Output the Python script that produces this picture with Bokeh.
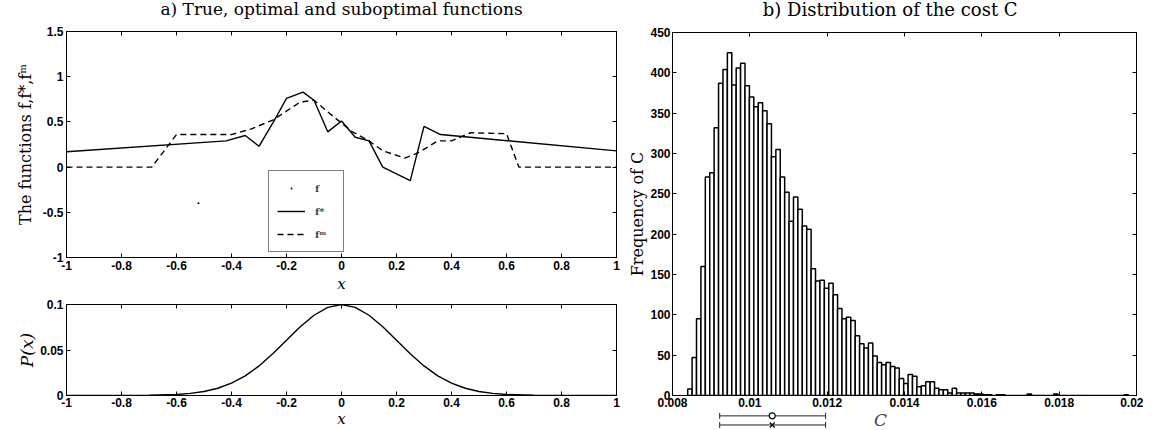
from bokeh.plotting import figure
from bokeh.models import (LinearAxis, FixedTicker, Legend, LegendItem, Label,
                          Range1d, Whisker, TeeHead, ColumnDataSource)
from bokeh.layouts import row, column
from bokeh.embed import file_html
from bokeh.resources import INLINE

# ---------------- data ----------------
# a) optimal function f* (solid) and suboptimal function f^m (dashed)
fstar_x = [-1, -0.42, -0.35, -0.3, -0.24, -0.2, -0.14, -0.1, -0.05, 0, 0.05, 0.1, 0.15, 0.25, 0.3, 0.36, 1]
fstar_y = [0.17, 0.29, 0.35, 0.23, 0.54, 0.76, 0.83, 0.74, 0.39, 0.51, 0.33, 0.29, 0.0, -0.15, 0.45, 0.36, 0.18]
fm_x = [-1, -0.69, -0.6, -0.4, -0.33, -0.25, -0.15, -0.1, -0.03, 0.04, 0.1, 0.15, 0.23, 0.28, 0.35, 0.4, 0.47, 0.6, 0.645, 1]
fm_y = [0, 0, 0.36, 0.36, 0.42, 0.52, 0.72, 0.74, 0.56, 0.39, 0.29, 0.18, 0.10, 0.16, 0.29, 0.29, 0.38, 0.37, 0, 0]
# true function f (dots)
ftrue_x = [-0.52]
ftrue_y = [-0.40]

# input density P(x)
px_x = [-1, -0.9, -0.8, -0.7, -0.6, -0.55, -0.5, -0.45, -0.4, -0.35, -0.3, -0.25, -0.2, -0.15, -0.1, -0.05,
        0, 0.05, 0.1, 0.15, 0.2, 0.25, 0.3, 0.35, 0.4, 0.45, 0.5, 0.55, 0.6, 0.7, 0.8, 0.9, 1]
px_y = [0, 0, 0, 0.0002, 0.0011, 0.0023, 0.0044, 0.0080, 0.0135, 0.0216, 0.0325, 0.0458, 0.0607, 0.0755, 0.0882, 0.0969,
        0.1, 0.0969, 0.0882, 0.0755, 0.0607, 0.0458, 0.0325, 0.0216, 0.0135, 0.0080, 0.0044, 0.0023, 0.0011, 0.0002, 0, 0, 0]

# b) histogram of the cost C (100 bins)
hist_start = 0.00845
hist_width = 0.000114
hist_counts = [8, 47, 95, 160, 271, 276, 332, 387, 404, 425,
               385, 406, 412, 384, 370, 358, 363, 353, 337, 296,
               305, 271, 252, 216, 246, 231, 210, 206, 157, 142,
               143, 133, 139, 125, 108, 95, 97, 93, 74, 64,
               59, 65, 49, 41, 38, 41, 36, 34, 21, 15,
               26, 24, 11, 12, 17, 17, 9, 7, 7, 3,
               9, 3, 3, 3, 3, 2, 2, 1, 1, 0,
               1, 1, 0, 0, 0, 0, 0, 2, 0, 0,
               0, 0, 0, 2, 0, 0, 0, 0, 0, 0,
               0, 0, 0, 0, 0, 0, 0, 0, 0, 1]
# mean +/- spread markers under the histogram (circle and cross), two rows
err_center = [0.01058, 0.01058]
err_lo = [0.00922, 0.00922]
err_hi = [0.01196, 0.01196]
err_row = [1, 2]

# ticks
xa_ticks = [-1, -0.8, -0.6, -0.4, -0.2, 0, 0.2, 0.4, 0.6, 0.8, 1]
xa_labels = ["-1", "-0.8", "-0.6", "-0.4", "-0.2", "0", "0.2", "0.4", "0.6", "0.8", "1"]
ya_ticks = [-1, -0.5, 0, 0.5, 1, 1.5]
ya_labels = ["-1", "-0.5", "0", "0.5", "1", "1.5"]
yp_ticks = [0, 0.05, 0.1]
yp_labels = ["0", "0.05", "0.1"]
xb_ticks = [0.008, 0.01, 0.012, 0.014, 0.016, 0.018, 0.02]
xb_labels = ["0.008", "0.01", "0.012", "0.014", "0.016", "0.018", "0.02"]
yb_ticks = [0, 50, 100, 150, 200, 250, 300, 350, 400, 450]
yb_labels = ["0", "50", "100", "150", "200", "250", "300", "350", "400", "450"]

title_a = "a) True, optimal and suboptimal functions"
title_b = "b)  Distribution  of  the  cost  C"

SERIF = "DejaVu Serif"
SANS = "Liberation Sans"


def style_axis(ax, ticks, labels, show=True):
    ax.ticker = FixedTicker(ticks=ticks)
    if show:
        ax.major_label_overrides = {t: l for t, l in zip(ticks, labels)}
    else:
        ax.major_label_overrides = {t: "" for t in ticks}
    ax.major_tick_in = 4
    ax.major_tick_out = 0
    ax.minor_tick_in = 0
    ax.minor_tick_out = 0
    ax.axis_line_color = "black"
    ax.axis_line_width = 1
    ax.major_tick_line_color = "black"
    ax.major_label_text_font = SANS
    ax.major_label_text_font_style = "bold"
    ax.major_label_text_font_size = "12px"
    ax.major_label_text_color = "black"
    ax.major_label_standoff = 3 if show else 0


def box_axes(p, xt, xl, yt, yl):
    bottom = p.xaxis[0]
    left = p.yaxis[0]
    style_axis(bottom, xt, xl)
    style_axis(left, yt, yl)
    top = LinearAxis()
    style_axis(top, xt, xl, show=False)
    right = LinearAxis()
    style_axis(right, yt, yl, show=False)
    p.add_layout(top, "above")
    p.add_layout(right, "right")
    p.xgrid.visible = False
    p.ygrid.visible = False
    p.outline_line_color = "black"
    return bottom, left, top, right


def title_strip(text, fw, fh, bl, br, size):
    t = figure(frame_width=fw, frame_height=fh, min_border_left=bl, min_border_right=br,
               min_border_top=0, min_border_bottom=0, x_range=Range1d(0, 1), y_range=Range1d(0, 1),
               x_axis_type=None, y_axis_type=None, toolbar_location=None, output_backend="svg")
    t.outline_line_color = None
    t.xgrid.visible = False
    t.ygrid.visible = False
    t.add_layout(Label(x=0.5, y=0.62, text=text, text_font=SERIF, text_font_size=size,
                       text_align="center", text_baseline="middle", text_color="black"))
    return t


# ---------------- panel a (top) ----------------
LB_A, RB_A = 66, 4
tA = title_strip(title_a, 550, 23, LB_A, RB_A, "17px")
p1 = figure(frame_width=550, frame_height=226, min_border_left=LB_A, min_border_right=RB_A,
            min_border_top=8, min_border_bottom=38, x_range=Range1d(-1, 1), y_range=Range1d(-1, 1.5),
            toolbar_location=None, output_backend="svg")
b1, l1, t1, r1 = box_axes(p1, xa_ticks, xa_labels, ya_ticks, ya_labels)
b1.axis_label = "x"
l1.axis_label = "The functions f,f*,fᵐ"
for ax, st in ((b1, "italic"), (l1, "normal")):
    ax.axis_label_text_font = SERIF
    ax.axis_label_text_font_style = st
    ax.axis_label_text_color = "black"
b1.axis_label_text_font_size = "15px"
l1.axis_label_text_font_size = "16px"
b1.axis_label_standoff = 2
l1.axis_label_standoff = 5

r_dot = p1.scatter(ftrue_x, ftrue_y, marker="dot", size=8, color="black")
r_solid = p1.line(fstar_x, fstar_y, line_width=1.4, color="black")
r_dash = p1.line(fm_x, fm_y, line_width=1.4, color="black", line_dash="6 4")
legend = Legend(items=[LegendItem(label="f", renderers=[r_dot]),
                       LegendItem(label="f*", renderers=[r_solid]),
                       LegendItem(label="fᵐ", renderers=[r_dash])],
                location=(202, 5), orientation="vertical")
legend.border_line_color = "black"
legend.border_line_width = 1
legend.background_fill_color = "white"
legend.background_fill_alpha = 1
legend.padding = 8
legend.spacing = 5
legend.margin = 0
legend.glyph_width = 28
legend.glyph_height = 18
legend.label_height = 18
legend.label_standoff = 10
legend.label_text_font = SERIF
legend.label_text_font_style = "bold"
legend.label_text_font_size = "10px"
p1.add_layout(legend)

# ---------------- panel a (bottom) ----------------
p2 = figure(frame_width=550, frame_height=91, min_border_left=LB_A, min_border_right=RB_A,
            min_border_top=9, min_border_bottom=30, x_range=Range1d(-1, 1), y_range=Range1d(0, 0.1),
            toolbar_location=None, output_backend="svg")
b2, l2, t2, r2 = box_axes(p2, xa_ticks, xa_labels, yp_ticks, yp_labels)
b2.axis_label = "x"
l2.axis_label = "P(x)"
for ax in (b2, l2):
    ax.axis_label_text_font = SERIF
    ax.axis_label_text_font_style = "italic"
    ax.axis_label_text_color = "black"
b2.axis_label_text_font_size = "15px"
b2.major_label_standoff = 2
b2.axis_label_standoff = 0
l2.axis_label_text_font_size = "17px"
l2.axis_label_standoff = 0
p2.line(px_x, px_y, line_width=1.4, color="black")

# ---------------- panel b (histogram) ----------------
LB_B, RB_B = 52, 7
tB = title_strip(title_b, 464, 24, LB_B, RB_B, "18px")
p3 = figure(frame_width=464, frame_height=363, min_border_left=LB_B, min_border_right=RB_B,
            min_border_top=8, min_border_bottom=14, x_range=Range1d(0.008, 0.02), y_range=Range1d(0, 450),
            toolbar_location=None, output_backend="svg")
b3, l3, t3, r3 = box_axes(p3, xb_ticks, xb_labels, yb_ticks, yb_labels)
b3.major_label_standoff = 2
l3.major_label_standoff = 2
l3.axis_label = "Frequency of C"
l3.axis_label_text_font = SERIF
l3.axis_label_text_font_style = "normal"
l3.axis_label_text_font_size = "16px"
l3.axis_label_text_color = "black"
l3.axis_label_standoff = 0

centers = [hist_start + i * hist_width for i in range(len(hist_counts))]
p3.vbar(x=centers, top=hist_counts, bottom=0, width=hist_width, fill_color="white",
        line_color="black", line_width=1.5)

# ---------------- strip under the histogram: error bars and the C label ----------------
p4 = figure(frame_width=464, frame_height=20, min_border_left=LB_B, min_border_right=RB_B,
            min_border_top=0, min_border_bottom=0, x_range=p3.x_range, y_range=Range1d(2.5, 0.3),
            x_axis_type=None, y_axis_type=None, toolbar_location=None, output_backend="svg")
p4.outline_line_color = None
p4.xgrid.visible = False
p4.ygrid.visible = False
err_src = ColumnDataSource(dict(lo=err_lo, hi=err_hi, c=err_center, y=err_row))
p4.add_layout(Whisker(source=err_src, base="y", lower="lo", upper="hi", dimension="width",
                      line_color="#222222", line_width=1,
                      lower_head=TeeHead(size=6, line_color="#222222", line_width=1),
                      upper_head=TeeHead(size=6, line_color="#222222", line_width=1)))
p4.scatter(x=[err_center[0]], y=[err_row[0]], marker="circle", size=6, fill_color="white",
           line_color="black", line_width=1.2)
p4.scatter(x=[err_center[1]], y=[err_row[1]], marker="x", size=7,
           line_color="black", line_width=1.3)
p4.add_layout(Label(x=0.01338, y=1.5, text="C", text_font=SERIF, text_font_style="italic",
                    text_font_size="17px", text_align="center", text_baseline="middle"))

layout = row(column(tA, p1, p2), column(tB, p3, p4))
open("out.html", "w").write(file_html(layout, INLINE))
